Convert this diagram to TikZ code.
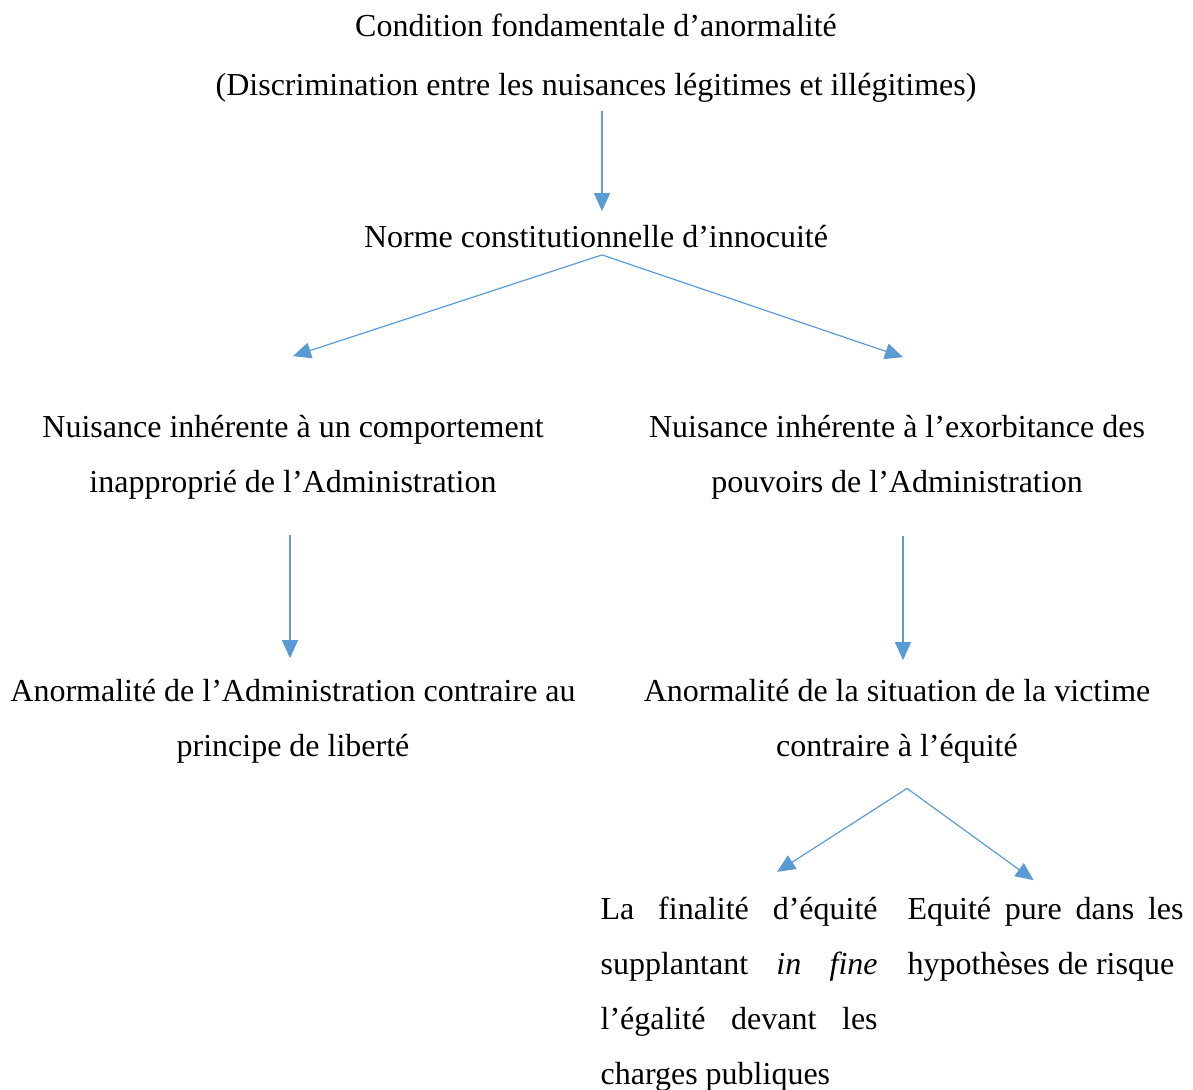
\documentclass[tikz,border=0pt]{standalone}
\usepackage{fontspec}
\setmainfont{Liberation Serif}
\usepackage{xcolor}
\usepackage{tikz}
\usetikzlibrary{
    arrows.meta
}
\definecolor{bleu}{HTML}{5B9BD5}

\begin{document}
\begin{tikzpicture}[x=1pt,y=-1pt,->,>={Triangle[length=18pt,width=16pt]},line width=1.2pt,draw=bleu]
    \tikzstyle{every node}=[text=black, inner sep=0pt, align=center, font=\fontsize{32}{55}\selectfont]
    \useasboundingbox (0,0) rectangle (1193,1089);
    \node[anchor=base] (cond) at (596, 96){Condition fondamentale d’anormalité\\[4pt](Discrimination entre les nuisances légitimes et illégitimes)};
    \node[anchor=base] (norme) at (596, 247){Norme constitutionnelle d’innocuité};
    \node[anchor=base] (nuisg) at (293, 492){Nuisance inhérente à un comportement\\inapproprié de l’Administration};
    \node[anchor=base] (nuisd) at (897, 492){Nuisance inhérente à l’exorbitance des\\pouvoirs de l’Administration};
    \node[anchor=base] (anorg) at (293, 756){Anormalité de l’Administration contraire au\\principe de liberté};
    \node[anchor=base] (anord) at (897, 756){Anormalité de la situation de la victime\\contraire à l’équité};
    \node[anchor=base west, align=left] (finalite) at (600, 1084){\makebox[277pt][s]{La finalité d’équité}\\\makebox[277pt][s]{supplantant \textit{in fine}}\\\makebox[277pt][s]{l’égalité devant les}\\charges publiques};
    \node[anchor=base west, align=left] (equite) at (907, 974){\makebox[276pt][s]{Equité pure dans les}\\hypothèses de risque};
    \path ([xshift=6pt,yshift=-7pt]cond.south) edge ([xshift=6pt,yshift=13pt]norme.north);
    \path ([xshift=6pt,yshift=-7pt]norme.south) edge ([yshift=58pt]nuisg.north);
    \path ([xshift=6pt,yshift=-7pt]norme.south) edge ([xshift=6pt,yshift=57pt]nuisd.north);
    \path ([xshift=-3pt,yshift=-36pt]nuisg.south) edge ([xshift=-3pt,yshift=20pt]anorg.north);
    \path ([xshift=6pt,yshift=-37pt]nuisd.south) edge ([xshift=6pt,yshift=18pt]anord.north);
    \path ([xshift=10pt,yshift=-25pt]anord.south) edge ([xshift=38pt,yshift=24pt]finalite.north);
    \path ([xshift=10pt,yshift=-25pt]anord.south) edge ([xshift=-12pt,yshift=16pt]equite.north);
\end{tikzpicture}
\end{document}
